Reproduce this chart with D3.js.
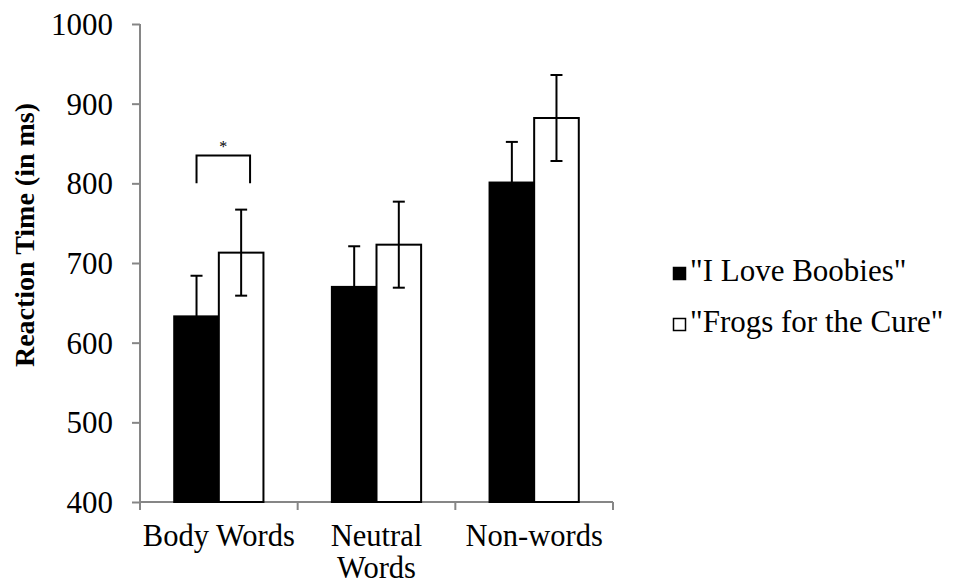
<!DOCTYPE html>
<html>
<head>
<meta charset="utf-8">
<script src="https://cdn.jsdelivr.net/npm/d3@7"></script>
<style>
  body { margin: 0; background: #fff; }
</style>
</head>
<body>
<div id="chartDiv"></div>
<script>
// data
var categories = ["Body Words", "Neutral Words", "Non-words"]
var series = ["\"I Love Boobies\"", "\"Frogs for the Cure\""]
var loveValues = [633, 670, 801]
var loveErrors = [51, 51, 51]
var frogValues = [713, 723, 882]
var frogErrors = [54, 54, 54]
var yTicks = [400, 500, 600, 700, 800, 900, 1000]
var sigBracket = {category: "Body Words", low: 800, high: 835, label: "*"}

var FONT = "'Liberation Serif', 'Times New Roman', Times, 'DejaVu Serif', serif"
var width = 958, height = 582
var margin = {top: 24, left: 140}
var plotW = 473, plotH = 478

var svg = d3.select("#chartDiv").append("svg")
  .attr("width", width)
  .attr("height", height)

var g = svg.append("g").attr("transform", "translate(" + margin.left + "," + margin.top + ")")

var y = d3.scaleLinear().domain([400, 1000]).range([plotH, 0])
var x0 = d3.scaleBand().domain(categories).range([0, plotW])
var bw = x0.bandwidth()
var x1 = d3.scaleBand().domain(series).range([bw * 0.217, bw * 0.783])

var rows = categories.map(function(c, i){
  return {category: c, bars: [
    {series: series[0], value: loveValues[i], err: loveErrors[i], fill: "#000"},
    {series: series[1], value: frogValues[i], err: frogErrors[i], fill: "#fff"}
  ]}
})

// y axis
var yAxis = d3.axisLeft(y).tickValues(yTicks).tickFormat(d3.format("d")).tickSize(8).tickPadding(19)
var yg = g.append("g").attr("class", "yaxis").call(yAxis)
yg.select(".domain").attr("stroke", "#868686").attr("stroke-width", 2).attr("d", "M0," + plotH + "V0")
yg.selectAll(".tick line").attr("stroke", "#868686").attr("stroke-width", 2)
yg.selectAll(".tick text")
  .attr("dy", "0.34em")
  .style("font-family", FONT)
  .style("font-size", "31px")
  .style("fill", "#000")

// x axis with ticks at band edges
g.append("line")
  .attr("x1", 0).attr("x2", plotW)
  .attr("y1", plotH).attr("y2", plotH)
  .attr("stroke", "#868686").attr("stroke-width", 2)
var edges = categories.map(function(c){ return x0(c) }).concat([plotW])
g.selectAll(".xtick").data(edges).enter().append("line")
  .attr("class", "xtick")
  .attr("x1", function(d){ return d }).attr("x2", function(d){ return d })
  .attr("y1", plotH).attr("y2", plotH + 8)
  .attr("stroke", "#868686").attr("stroke-width", 2)

var xLabels = g.selectAll(".xlabel").data(categories).enter().append("text")
  .attr("class", "xlabel")
  .attr("text-anchor", "middle")
  .attr("transform", function(d){ return "translate(" + (x0(d) + bw / 2) + "," + (plotH + 44) + ")" })
  .style("font-family", FONT)
  .style("font-size", "30.5px")
xLabels.each(function(d){
  var words = d == "Neutral Words" ? ["Neutral", "Words"] : [d]
  var t = d3.select(this)
  words.forEach(function(w, i){
    t.append("tspan").attr("x", 0).attr("y", i * 32).text(w)
  })
})

// bars
var groups = g.selectAll(".group").data(rows).enter().append("g")
  .attr("class", "group")
  .attr("transform", function(d){ return "translate(" + x0(d.category) + ",0)" })

groups.selectAll("rect").data(function(d){ return d.bars }).enter().append("rect")
  .attr("x", function(d){ return x1(d.series) })
  .attr("y", function(d){ return y(d.value) })
  .attr("width", x1.bandwidth())
  .attr("height", function(d){ return plotH - y(d.value) })
  .attr("fill", function(d){ return d.fill })
  .attr("stroke", "#000")
  .attr("stroke-width", 2)

// error bars
var err = groups.selectAll(".err").data(function(d){ return d.bars }).enter().append("g").attr("class", "err")
var cx = function(d){ return x1(d.series) + x1.bandwidth() / 2 }
err.append("line")
  .attr("x1", cx).attr("x2", cx)
  .attr("y1", function(d){ return y(d.value + d.err) })
  .attr("y2", function(d){ return y(d.value - d.err) })
  .attr("stroke", "#000").attr("stroke-width", 2)
;[1, -1].forEach(function(s){
  err.append("line")
    .attr("x1", function(d){ return cx(d) - 6 }).attr("x2", function(d){ return cx(d) + 6 })
    .attr("y1", function(d){ return y(d.value + s * d.err) })
    .attr("y2", function(d){ return y(d.value + s * d.err) })
    .attr("stroke", "#000").attr("stroke-width", 2)
})

// significance bracket
var bl = x0(sigBracket.category) + x1(series[0]) + x1.bandwidth() / 2
var br = x0(sigBracket.category) + x1(series[1]) + x1.bandwidth() * 0.7
g.append("path")
  .attr("d", "M" + bl + "," + y(sigBracket.low) + "V" + y(sigBracket.high) + "H" + br + "V" + y(sigBracket.low))
  .attr("fill", "none").attr("stroke", "#000").attr("stroke-width", 2)
g.append("text")
  .attr("x", (bl + br) / 2).attr("y", y(sigBracket.high) - 3)
  .attr("text-anchor", "middle")
  .style("font-family", FONT)
  .style("font-size", "16px")
  .text(sigBracket.label)

// y title
svg.append("text")
  .attr("transform", "translate(34,235) rotate(-90)")
  .attr("text-anchor", "middle")
  .style("font-family", FONT)
  .style("font-size", "28px")
  .style("font-weight", "bold")
  .text("Reaction Time (in ms)")

// legend
var legend = svg.append("g").attr("transform", "translate(673,267)")
var li = legend.selectAll(".li").data(rows[0].bars).enter().append("g")
  .attr("transform", function(d, i){ return "translate(0," + (i * 51) + ")" })
li.append("rect")
  .attr("x", 0.5).attr("y", 0.5).attr("width", 12).attr("height", 12)
  .attr("fill", function(d){ return d.fill })
  .attr("stroke", "#000").attr("stroke-width", 1.5)
li.append("text")
  .attr("x", 17).attr("y", 14)
  .style("font-family", FONT)
  .style("font-size", "31px")
  .text(function(d){ return d.series })
</script>
</body>
</html>
